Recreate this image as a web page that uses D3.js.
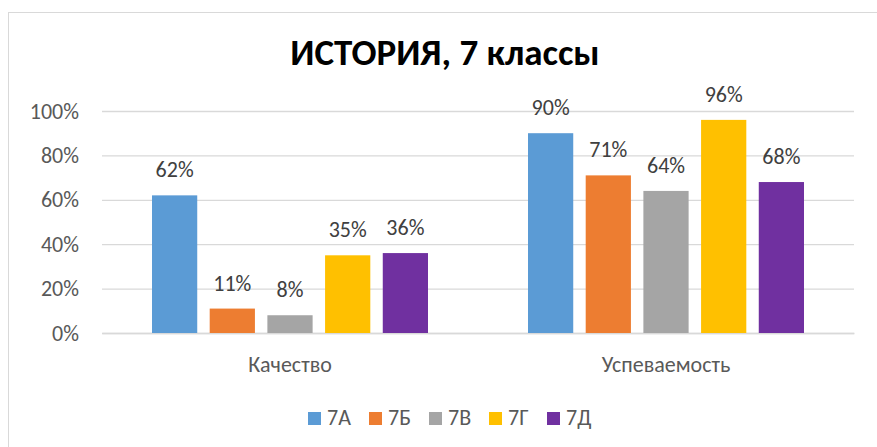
<!DOCTYPE html>
<html><head><meta charset="utf-8">
<script src="https://cdn.jsdelivr.net/npm/d3@7"></script>
<style>body{margin:0;background:#fff;} svg{display:block;}</style>
</head><body>
<script>
const categories = ["Качество", "Успеваемость"];
const seriesNames = ["7А", "7Б", "7В", "7Г", "7Д"];
const seriesColors = ["#5B9BD5", "#ED7D31", "#A5A5A5", "#FFC000", "#7030A0"];
const values7A = [62, 90];
const values7B = [11, 71];
const values7V = [8, 64];
const values7G = [35, 96];
const values7D = [36, 68];
const yTicks = [0, 20, 40, 60, 80, 100];
const title = "ИСТОРИЯ, 7 классы";

const seriesValues = [values7A, values7B, values7V, values7G, values7D];
const W = 877, H = 447;
const font = "Carlito, Calibri, 'Open Sans', sans-serif";
const svg = d3.select("body").append("svg").attr("width", W).attr("height", H);
svg.append("rect").attr("x", 0).attr("y", 0).attr("width", W).attr("height", H).attr("fill", "#fff");
svg.append("rect").attr("x", 8.5).attr("y", 12.5).attr("width", W + 10).attr("height", H + 10)
  .attr("fill", "none").attr("stroke", "#d9d9d9");

const plot = {l: 102, r: 854, t: 111, b: 333};
const y = d3.scaleLinear().domain([0, 100]).range([plot.b, plot.t]);
const x0 = d3.scaleBand().domain(categories).range([plot.l, plot.r]).paddingInner(0.266).paddingOuter(0.133);
const x1 = d3.scaleBand().domain(seriesNames).range([0, x0.bandwidth()]).paddingInner(0.216).paddingOuter(0);

svg.append("text").attr("x", 445).attr("y", 65).attr("text-anchor", "middle")
  .attr("font-family", font).attr("font-weight", "bold").attr("font-size", 37).attr("fill", "#000").text(title);

const yAxis = d3.axisLeft(y).tickValues(yTicks).tickSize(-(plot.r - plot.l)).tickFormat(d => d + "%");
const gy = svg.append("g").attr("transform", `translate(${plot.l},0)`).call(yAxis);
gy.select(".domain").remove();
gy.selectAll(".tick line").attr("stroke", "#d9d9d9").attr("stroke-width", 1.3);
gy.selectAll(".tick text").attr("x", -23).attr("fill", "#595959").attr("font-family", font).attr("font-size", 22);

const xAxis = d3.axisBottom(x0).tickSize(0);
const gx = svg.append("g").attr("transform", `translate(0,${plot.b})`).call(xAxis);
gx.select(".domain").attr("stroke", "#d9d9d9").attr("stroke-width", 1.3);
gx.selectAll(".tick text").attr("dy", 0).attr("y", 39).attr("fill", "#595959").attr("font-family", font).attr("font-size", 22);

const data = [];
seriesNames.forEach((s, i) => categories.forEach((c, j) => data.push({s, c, v: seriesValues[i][j], color: seriesColors[i]})));

svg.append("g").selectAll("rect").data(data).join("rect")
  .attr("x", d => x0(d.c) + x1(d.s)).attr("width", x1.bandwidth())
  .attr("y", d => y(d.v)).attr("height", d => y(0) - y(d.v)).attr("fill", d => d.color);

svg.append("g").selectAll("text").data(data).join("text")
  .attr("x", d => x0(d.c) + x1(d.s) + x1.bandwidth() / 2).attr("y", d => y(d.v) - 18)
  .attr("text-anchor", "middle").attr("fill", "#404040").attr("font-family", font).attr("font-size", 22)
  .text(d => d.v + "%");

const leg = svg.append("g");
const legX = [308, 369, 429, 489, 547];
seriesNames.forEach((s, i) => {
  const g = leg.append("g").attr("transform", `translate(${legX[i]},412)`);
  g.append("rect").attr("width", 13).attr("height", 13).attr("fill", seriesColors[i]);
  g.append("text").attr("x", 19).attr("y", 13).attr("fill", "#595959").attr("font-family", font).attr("font-size", 22).text(s);
});
</script>
</body></html>
